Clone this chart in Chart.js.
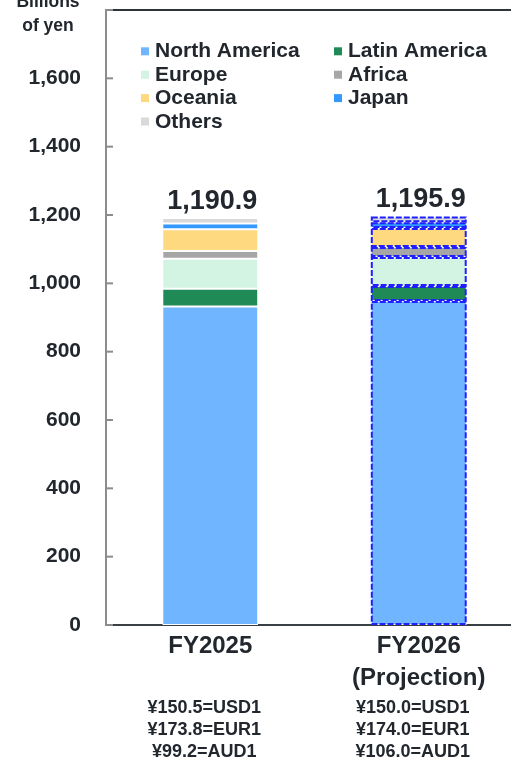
<!DOCTYPE html>
<html>
<head>
<meta charset="utf-8">
<script src="https://cdn.jsdelivr.net/npm/chart.js@4/dist/chart.umd.min.js"></script>
<style>
  html, body { margin: 0; padding: 0; background: #ffffff; overflow: hidden; }
  #wrap { width: 511px; height: 761px; overflow: hidden; position: relative; }
  canvas { display: block; }
</style>
</head>
<body>
<div id="wrap"><canvas id="c" width="525" height="761"></canvas></div>
<script>
// ---- Data ----
const categories = ['FY2025', ['FY2026', '(Projection)']];
const regions = ['North America', 'Latin America', 'Europe', 'Africa', 'Oceania', 'Japan', 'Others'];
const northAmerica = [932.0, 948.0];
const latinAmerica = [52.0, 44.0];
const europe = [88.0, 85.0];
const africa = [23.0, 29.0];
const oceania = [63.0, 56.0];
const japan = [17.0, 17.0];
const others = [15.9, 16.9];
const totalLabels = ['1,190.9', '1,195.9'];
const rateLines = [
  ['\u00a5150.5=USD1', '\u00a5173.8=EUR1', '\u00a599.2=AUD1'],
  ['\u00a5150.0=USD1', '\u00a5174.0=EUR1', '\u00a5106.0=AUD1']
];
const yTitle = ['Billions', 'of yen'];
const seriesValues = [northAmerica, latinAmerica, europe, africa, oceania, japan, others];
const colors = ['#70b5ff', '#1f8a55', '#d3f3e3', '#a6a6a6', '#ffd980', '#3399ff', '#d9d9d9'];

const TEXT = '#22272e';
const FONT = '"Liberation Sans", Arial, sans-serif';

const datasets = regions.map((r, i) => ({
  label: r,
  data: seriesValues[i],
  backgroundColor: colors[i],
  borderColor: '#ffffff',
  borderWidth: 1,
  borderSkipped: false,
  barPercentage: 0.46,
  categoryPercentage: 1.0
}));

const decor = {
  id: 'decor',
  afterDatasetsDraw(chart) {
    const ctx = chart.ctx;
    const area = chart.chartArea;
    const ys = chart.scales.y;
    const xs = chart.scales.x;
    ctx.save();
    // dashed borders on projection bar
    ctx.strokeStyle = '#1f1fff';
    ctx.lineWidth = 2;
    ctx.setLineDash([6, 2]);
    chart.data.datasets.forEach((ds, di) => {
      const el = chart.getDatasetMeta(di).data[1];
      if (!el) return;
      const p = el.getProps(['x', 'y', 'base', 'width'], true);
      const left = p.x - p.width / 2, right = p.x + p.width / 2;
      const top = Math.min(p.y, p.base), bot = Math.max(p.y, p.base);
      ctx.strokeRect(left + 1, top + 1, right - left - 2, bot - top - 2);
    });
    ctx.setLineDash([]);
    // top frame line
    ctx.strokeStyle = '#2e3338';
    ctx.lineWidth = 2;
    ctx.beginPath();
    ctx.moveTo(area.left, area.top);
    ctx.lineTo(chart.width, area.top);
    ctx.stroke();
    // inward y ticks
    ctx.strokeStyle = '#8c8c8c';
    ctx.lineWidth = 2;
    ys.ticks.forEach(t => {
      const py = ys.getPixelForValue(t.value);
      ctx.beginPath();
      ctx.moveTo(area.left, py);
      ctx.lineTo(area.left + 7, py);
      ctx.stroke();
    });
    // totals
    ctx.fillStyle = TEXT;
    ctx.font = 'bold 27px ' + FONT;
    ctx.textAlign = 'center';
    ctx.textBaseline = 'alphabetic';
    const lastMeta = chart.getDatasetMeta(chart.data.datasets.length - 1);
    totalLabels.forEach((lbl, i) => {
      const el = lastMeta.data[i];
      ctx.fillText(lbl, el.x + 2, el.y - 9);
    });
    // exchange rates
    ctx.font = 'bold 18px ' + FONT;
    rateLines.forEach((lines, i) => {
      const cx = xs.getPixelForValue(i) - 6;
      lines.forEach((s, j) => {
        ctx.fillText(s, cx, area.bottom + 88 + j * 22);
      });
    });
    // y title
    ctx.font = 'bold 17.5px ' + FONT;
    ctx.fillText(yTitle[0], 48, 7);
    ctx.fillText(yTitle[1], 48, 31);
    // legend
    ctx.font = 'bold 21px ' + FONT;
    ctx.textAlign = 'left';
    chart.data.datasets.forEach((ds, i) => {
      const col = i % 2, row = Math.floor(i / 2);
      const bx = col === 0 ? 141 : 334;
      const tx = col === 0 ? 155 : 348;
      const base = 57.3 + row * 23.4;
      ctx.fillStyle = ds.backgroundColor;
      ctx.fillRect(bx, base - 10, 8, 8);
      ctx.fillStyle = TEXT;
      ctx.fillText(ds.label, tx, base);
    });
    ctx.restore();
  }
};

new Chart(document.getElementById('c'), {
  type: 'bar',
  data: { labels: categories, datasets },
  options: {
    responsive: false,
    animation: false,
    devicePixelRatio: 1,
    layout: { autoPadding: false, padding: { left: 0, top: 10, right: 2, bottom: 0 } },
    plugins: { legend: { display: false }, tooltip: { enabled: false } },
    scales: {
      x: {
        stacked: true,
        grid: { display: false, drawTicks: false },
        border: { display: true, color: '#3a3f44', width: 2 },
        ticks: {
          color: TEXT,
          font: { family: FONT, size: 24, weight: 'bold', lineHeight: 32 / 24 },
          padding: 5,
          maxRotation: 0,
          autoSkip: false
        },
        afterFit(s) { s.height = 136; s.paddingLeft = 0; s.paddingRight = 0; }
      },
      y: {
        stacked: true,
        min: 0,
        max: 1800,
        grid: { display: false, drawTicks: false },
        border: { display: true, color: '#8c8c8c', width: 2 },
        ticks: {
          stepSize: 200,
          color: TEXT,
          padding: 25,
          font: { family: FONT, size: 21, weight: 'bold' },
          callback: v => (v === 1800 ? '' : v.toLocaleString('en-US'))
        },
        afterFit(s) { s.width = 106; s.paddingTop = 0; s.paddingBottom = 0; }
      }
    }
  },
  plugins: [decor]
});
</script>
</body>
</html>
